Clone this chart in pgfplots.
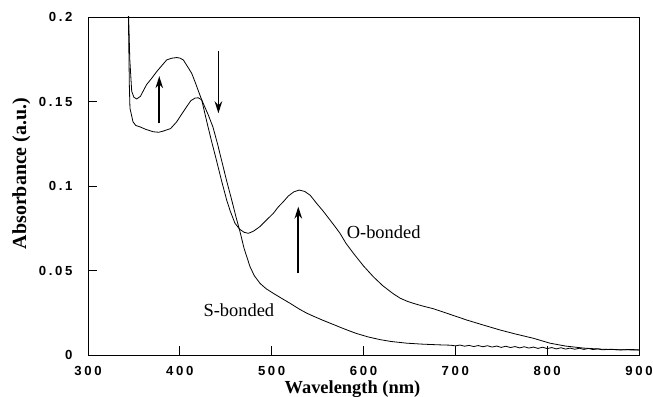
\documentclass[border=0pt]{standalone}
\usepackage{fontspec}
\setmainfont{Liberation Serif}
\newfontfamily\tickfont[LetterSpace=20]{Liberation Sans}
\usepackage{pgfplots}
\pgfplotsset{compat=1.18}
\usetikzlibrary{arrows.meta}

\begin{document}
\begin{tikzpicture}
\begin{axis}[
  scale only axis,
  width=551bp, height=338bp,
  xmin=300, xmax=900, ymin=0, ymax=0.2,
  xtick={300,400,...,900},
  xticklabels={300,400,500,600,700,800,900},
  ytick={0,0.05,0.1,0.15,0.2},
  yticklabels={0,0.05,0.1,0.15,0.2},
  tick align=inside,
  xtick pos=bottom, ytick pos=left,
  major tick length=9bp,
  every tick/.style={black, line width=0.8bp},
  axis line style={line width=0.9bp},
  tick label style={font=\tickfont\bfseries\fontsize{13.2}{15}\selectfont},
  /pgf/number format/assume math mode=true,
  xticklabel style={yshift=-8bp},
  yticklabel style={xshift=-12bp},
  xlabel={Wavelength (nm)},
  ylabel={Absorbance (a.u.)},
  xlabel style={font=\bfseries\fontsize{18.5}{20}\selectfont, at={(axis description cs:0.48,-0.1125)}, anchor=base, inner sep=0pt},
  ylabel style={font=\bfseries\fontsize{20}{22}\selectfont, at={(axis description cs:-0.1125,0.537)}, anchor=base, rotate=0, inner sep=0pt},
  clip=true,
]
% O-bonded
\addplot[black, line width=0.8bp] coordinates {
(342,0.25) (344,0.205) (345.5,0.175) (347.6,0.156) (350,0.1525) (353,0.1515) (357,0.153)
(363.8,0.160) (369,0.1635) (374.8,0.1677) (380,0.171) (385.7,0.1746) (391,0.1756)
(396.6,0.176) (400,0.1757) (403.8,0.1746) (408,0.171) (412.9,0.1667) (417,0.161)
(420,0.1565) (423.8,0.151) (427,0.1435) (430.7,0.135) (435,0.1255) (440,0.115) (445,0.104)
(451,0.0917) (455,0.085) (460,0.078) (465,0.0745) (470,0.0726) (474.6,0.072) (480,0.0732)
(487,0.0759) (494,0.0797) (501.8,0.0838) (507,0.0875) (512.7,0.0907) (518,0.094)
(524,0.0965) (530,0.0976) (536,0.0968) (542,0.0945) (549,0.0897) (556,0.0852)
(563.5,0.0799) (569,0.076) (574.4,0.072) (581,0.066) (589,0.0602) (600,0.0527)
(610.7,0.0463) (621,0.041) (632.5,0.0362) (640,0.0336) (648,0.0317) (656,0.0303)
(665,0.0289) (676,0.0274) (688,0.0252) (700,0.0230) (712.4,0.0207) (730,0.0178)
(748.7,0.0148) (765,0.0125) (785,0.0099) (803,0.0070) (820,0.0053) (839.4,0.0041)
(860,0.0034) (880,0.0031) (900,0.0030)
};
% S-bonded
\addplot[black, line width=0.8bp] coordinates {
(342,0.25) (344,0.2) (345,0.16) (345.7,0.146) (349,0.138) (352,0.1358) (356.6,0.135)
(363,0.1335) (371,0.1321) (377,0.1318) (382,0.1325) (390,0.134) (396.6,0.138)
(402,0.1425) (407.5,0.147) (412,0.1505) (416.5,0.152) (420,0.1522) (423.8,0.151)
(427,0.147) (431,0.142) (436,0.135) (441,0.125) (446,0.114) (451,0.103) (456.5,0.0917)
(461,0.082) (465.5,0.073) (470,0.063) (476.4,0.0523) (481,0.047) (487.3,0.0424)
(494,0.0392) (501.8,0.0365) (510,0.0338) (520,0.0306) (530,0.0272) (538,0.0248)
(547,0.0226) (556,0.0205) (567,0.0181) (576,0.0161) (585,0.0142) (592.6,0.0127)
(605,0.0107) (618,0.0091) (630,0.0080) (647,0.0070) (665,0.0064) (683,0.0060)
(695,0.0058) (700,0.0054) (705,0.0059) (710,0.0052) (715,0.0057) (720,0.0050)
(725,0.0056) (730,0.0049) (735,0.0055) (740,0.0047) (745,0.0053) (750,0.0045)
(755,0.0052) (760,0.0044) (765,0.0050) (770,0.0042) (775,0.0049) (780,0.0041)
(785,0.0047) (790,0.0039) (795,0.0046) (800,0.0038) (805,0.0044) (810,0.0036)
(815,0.0043) (820,0.0035) (825,0.0041) (830,0.0034) (835,0.0040) (840,0.0033)
(845,0.0039) (850,0.0032) (855,0.0037) (860,0.0031) (870,0.0034) (880,0.0030)
(890,0.0033) (900,0.0030)
};
\draw[line width=1.8bp, -{Stealth[length=12bp,width=7.5bp]}] (axis cs:377.6,0.137) -- (axis cs:377.6,0.165);
\draw[line width=1.8bp, -{Stealth[length=12bp,width=7.5bp]}] (axis cs:442,0.180) -- (axis cs:442,0.143);
\draw[line width=1.8bp, -{Stealth[length=12bp,width=7.5bp]}] (axis cs:529,0.0483) -- (axis cs:529,0.0878);
\node[anchor=base west, inner sep=0pt, font=\fontsize{18.5}{20}\selectfont] at (axis cs:581.6,0.069) {O-bonded};
\node[anchor=base west, inner sep=0pt, font=\fontsize{18.5}{20}\selectfont] at (axis cs:425.6,0.0227) {S-bonded};
\end{axis}
\pgfresetboundingbox
\useasboundingbox ([xshift=-88bp,yshift=-41bp]current axis.south west) rectangle ([xshift=14bp,yshift=17bp]current axis.north east);
\end{tikzpicture}
\end{document}
